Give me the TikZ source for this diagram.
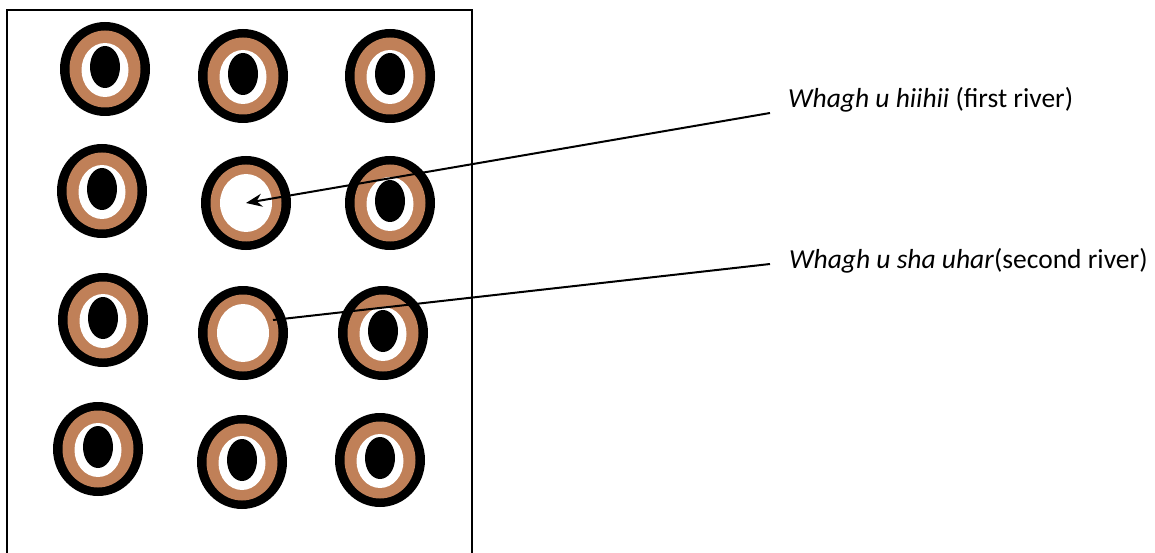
\documentclass[tikz,border=0pt]{standalone}
\usepackage{fontspec}
\setmainfont{Carlito}
\usetikzlibrary{arrows.meta, shapes.geometric}
\definecolor{ringbrown}{RGB}{192,128,88}

\begin{document}
\begin{tikzpicture}[x=1pt, y=-1pt,
    % Outer black rim of a well
    rim/.style={
        ellipse,
        fill=black,
        inner sep=0pt,
        minimum width=90pt,
        minimum height=94pt
    },
    % Brown band inside the rim
    band/.style={
        ellipse,
        fill=ringbrown,
        inner sep=0pt,
        minimum width=71pt,
        minimum height=77pt
    },
    % White hollow
    hollow/.style={
        ellipse,
        fill=white,
        inner sep=0pt,
        minimum width=47pt,
        minimum height=54pt
    },
    % Black centre
    pupil/.style={
        ellipse,
        fill=black,
        inner sep=0pt,
        minimum width=30pt,
        minimum height=42pt
    },
    % Label style
    lbl/.style={
        font=\fontsize{27.5}{32}\selectfont,
        anchor=base west,
        inner sep=0pt
    },
    % Pointer style
    pointer/.style={
        line width=2pt
    }
]
\useasboundingbox (0,0) rectangle (1155,553);

% === Frame (open at the bottom) ===
\draw[line width=1.8pt] (7,553) -- (7,10) -- (472,10) -- (472,553);

% === Wells ===
\foreach \name/\x/\y in {r1c1/105/69, r1c2/243/76, r1c3/390/76,
                         r2c1/102/191, r2c2/246/203, r2c3/390/203,
                         r3c1/103/320, r3c2/243/333, r3c3/383/333,
                         r4c1/98/449, r4c2/242/462, r4c3/380/460} {
    \node[rim] (\name) at (\x,\y) {};
    \node[band] at (\name) {};
}

% White hollows, the two rivers a bit wider
\foreach \name in {r1c1, r1c2, r1c3, r2c1, r2c3, r3c1, r3c3, r4c1, r4c2, r4c3} {
    \node[hollow] at ([yshift=-1pt]\name.center) {};
    \node[pupil] at ([yshift=2pt]\name.center) {};
}
\node[hollow, minimum width=52pt, minimum height=58pt] at (r2c2) {};
\node[hollow, minimum width=52pt, minimum height=58pt] at (r3c2) {};

% === Labels ===
\node[lbl] (first) at (788,108) {\textit{Whagh u hiihii} (first river)};
\node[lbl] (second) at (789,268) {\textit{Whagh u sha uhar}(second river)};

\coordinate (first-end) at (770,113);
\coordinate (second-end) at (770,264);
\coordinate (second-tip) at (273,320);

% === Pointers ===
\draw[pointer, -{Stealth[length=16pt, width=13pt]}] (first-end) -- (r2c2.center);
\draw[pointer] (second-end) -- (second-tip);

\end{tikzpicture}
\end{document}
